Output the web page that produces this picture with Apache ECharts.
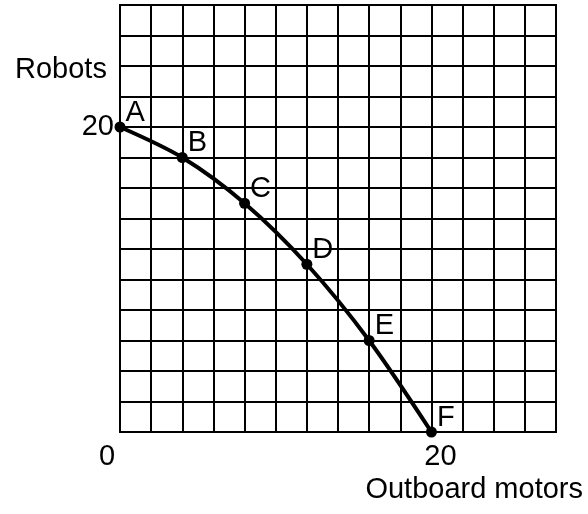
<!DOCTYPE html>
<html>
<head>
<meta charset="utf-8">
<script src="https://cdn.jsdelivr.net/npm/echarts@6/dist/echarts.min.js"></script>
<style>html,body{margin:0;padding:0;background:#fff}#c{width:588px;height:514px}</style>
</head>
<body>
<div id="c"></div>
<script>
var pointNames = ['A', 'B', 'C', 'D', 'E', 'F'];
var outboardMotors = [0, 4, 8, 12, 16, 20];
var robots = [20, 18, 15, 11, 6, 0];
var xTickLabels = {0: '{o|0}', 20: '{t|20}'};
var yTickLabels = {20: '20'};
var xTitle = 'Outboard motors';
var yTitle = 'Robots';

var FONT = '"Liberation Sans", Arial, sans-serif';
var chart = echarts.init(document.getElementById('c'), null, {renderer: 'canvas'});
var data = outboardMotors.map(function (x, i) {
  return {value: [x, robots[i]], name: pointNames[i]};
});
chart.setOption({
  animation: false,
  backgroundColor: '#fff',
  title: [
    {text: yTitle, left: 10, top: 50, textStyle: {fontFamily: FONT, fontSize: 29, fontWeight: 'normal', color: '#000'}},
    {text: xTitle, right: 0, top: 470, textStyle: {fontFamily: FONT, fontSize: 29, fontWeight: 'normal', color: '#000'}}
  ],
  grid: {left: 120, right: 32, top: 5, bottom: 82, show: true, borderColor: '#000', borderWidth: 2, backgroundColor: 'transparent'},
  xAxis: {
    type: 'value', min: 0, max: 28, interval: 2,
    axisLine: {show: true, lineStyle: {color: '#000', width: 2}},
    axisTick: {show: false},
    splitLine: {show: true, lineStyle: {color: '#000', width: 2}},
    axisLabel: {
      margin: 10,
      formatter: function (v) { return xTickLabels[v] || ''; },
      rich: {
        o: {fontFamily: FONT, fontSize: 29, color: '#000', padding: [0, 26, 0, 0]},
        t: {fontFamily: FONT, fontSize: 29, color: '#000', padding: [0, 0, 0, 18]}
      }
    }
  },
  yAxis: {
    type: 'value', min: 0, max: 28, interval: 2,
    axisLine: {show: true, lineStyle: {color: '#000', width: 2}},
    axisTick: {show: false},
    splitLine: {show: true, lineStyle: {color: '#000', width: 2}},
    axisLabel: {
      margin: 6,
      fontFamily: FONT, fontSize: 29, color: '#000',
      formatter: function (v) { return yTickLabels[v] || ''; }
    }
  },
  series: [{
    type: 'line',
    data: data,
    smooth: 0.3,
    symbol: 'circle',
    symbolSize: 11,
    itemStyle: {color: '#000'},
    lineStyle: {color: '#000', width: 4},
    label: {
      show: true,
      position: 'right',
      distance: 0,
      verticalAlign: 'bottom',
      formatter: '{b}',
      fontFamily: FONT, fontSize: 29, color: '#000'
    }
  }]
});
</script>
</body>
</html>
